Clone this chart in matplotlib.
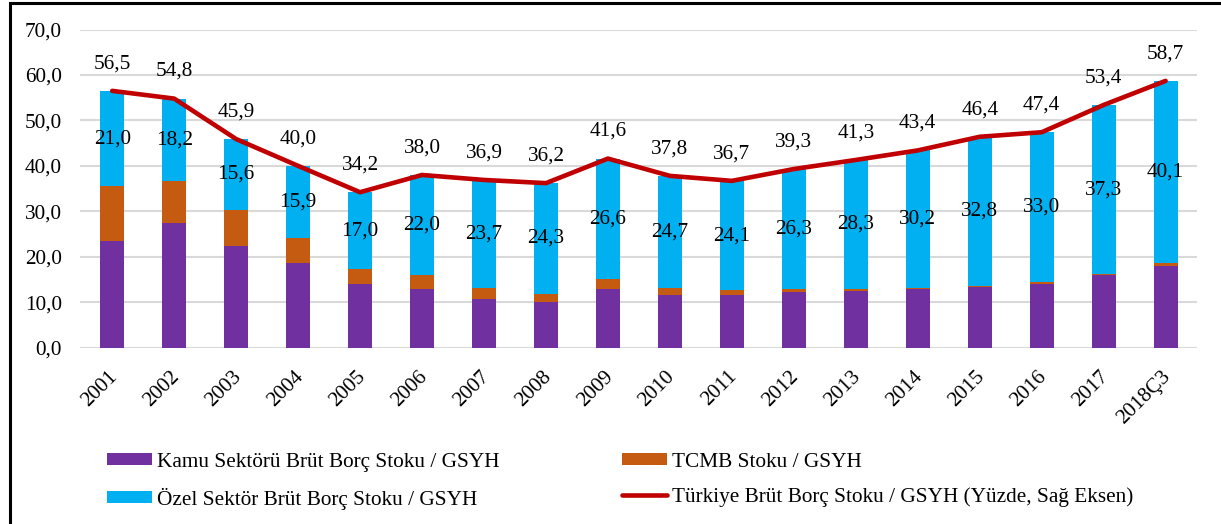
import numpy as np
import matplotlib.pyplot as plt
import matplotlib.transforms as mtransforms
from matplotlib.patches import Rectangle

#%% datos
yillar = ['2001', '2002', '2003', '2004', '2005', '2006', '2007', '2008', '2009',
          '2010', '2011', '2012', '2013', '2014', '2015', '2016', '2017', '2018Ç3']
kamu = [23.5, 27.4, 22.4, 18.7, 14.0, 13.0, 10.7, 10.0, 13.0,
        11.5, 11.5, 12.3, 12.4, 12.9, 13.3, 14.1, 16.0, 18.0]
tcmb = [12.0, 9.2, 7.9, 5.4, 3.2, 3.0, 2.5, 1.9, 2.0,
        1.6, 1.1, 0.7, 0.6, 0.3, 0.3, 0.3, 0.1, 0.6]
ozel = [21.0, 18.2, 15.6, 15.9, 17.0, 22.0, 23.7, 24.3, 26.6,
        24.7, 24.1, 26.3, 28.3, 30.2, 32.8, 33.0, 37.3, 40.1]
toplam = [56.5, 54.8, 45.9, 40.0, 34.2, 38.0, 36.9, 36.2, 41.6,
          37.8, 36.7, 39.3, 41.3, 43.4, 46.4, 47.4, 53.4, 58.7]

c_kamu = '#7030A0'
c_tcmb = '#C55A11'
c_ozel = '#00B0F0'
c_line = '#C00000'

plt.rcParams['font.family'] = ['Liberation Serif', 'DejaVu Serif']
fs = 15.3

def coma(v):
    return f'{v:.1f}'.replace('.', ',')

#%% grafico
fig = plt.figure(figsize=(12.21, 5.24), dpi=100)
ax = fig.add_axes([0.0655, 0.3365, 0.9145, 0.6072])

x = np.arange(len(yillar))
w = 0.39
kamu = np.array(kamu)
tcmb = np.array(tcmb)
ozel = np.array(ozel)
b1 = ax.bar(x, kamu, w, color=c_kamu, label='Kamu Sektörü Brüt Borç Stoku / GSYH', zorder=2)
b2 = ax.bar(x, tcmb, w, bottom=kamu, color=c_tcmb, label='TCMB Stoku / GSYH', zorder=2)
b3 = ax.bar(x, ozel, w, bottom=kamu + tcmb, color=c_ozel,
            label='Özel Sektör Brüt Borç Stoku / GSYH', zorder=2)
l1, = ax.plot(x, toplam, '-', color=c_line, lw=3.3, solid_capstyle='round',
              label='Türkiye Brüt Borç Stoku / GSYH (Yüzde, Sağ Eksen)', zorder=3)

for i in range(len(x)):
    ax.annotate(coma(ozel[i]), (x[i], kamu[i] + tcmb[i] + ozel[i] / 2),
                ha='center', va='center', fontsize=fs, zorder=4)
    ax.annotate(coma(toplam[i]), (x[i], toplam[i]), xytext=(0, 19.5),
                textcoords='offset points', ha='center', va='center', fontsize=fs, zorder=4)

ax.set_ylim(0, 70)
ax.set_xlim(-0.52, len(x) - 0.5)
ax.set_yticks(np.arange(0, 71, 10))
ax.set_yticklabels([coma(v) for v in np.arange(0, 71, 10)], fontsize=fs)
ax.set_xticks(x)
ax.set_xticklabels(yillar, fontsize=fs, rotation=45, ha='right', va='top')
ax.tick_params(axis='both', length=0)
ax.tick_params(axis='y', pad=13)
ax.tick_params(axis='x', pad=14)
offset = mtransforms.ScaledTranslation(9 / 100, 0, fig.dpi_scale_trans)
for lab in ax.get_xticklabels():
    lab.set_transform(lab.get_transform() + offset)

ax.grid(axis='y', color='#D9D9D9', lw=1.5, zorder=0)
for s in ax.spines.values():
    s.set_visible(False)

ax.legend([b1, b3, b2, l1], [b1.get_label(), b3.get_label(), b2.get_label(), l1.get_label()],
          ncol=2, loc='upper left', bbox_to_anchor=(0.0876, 0.136),
          bbox_transform=fig.transFigure, frameon=False, fontsize=fs,
          borderpad=0, borderaxespad=0, handlelength=2.12, handleheight=0.47,
          handletextpad=0.24, columnspacing=5.74, labelspacing=0.74)

# marco
fig.patches.append(Rectangle((10 / 1221, -0.1), 1.2, 1 - 3 / 524 + 0.1, transform=fig.transFigure,
                             fill=False, edgecolor='black', lw=2.2))

plt.savefig('out.png', dpi=100)
